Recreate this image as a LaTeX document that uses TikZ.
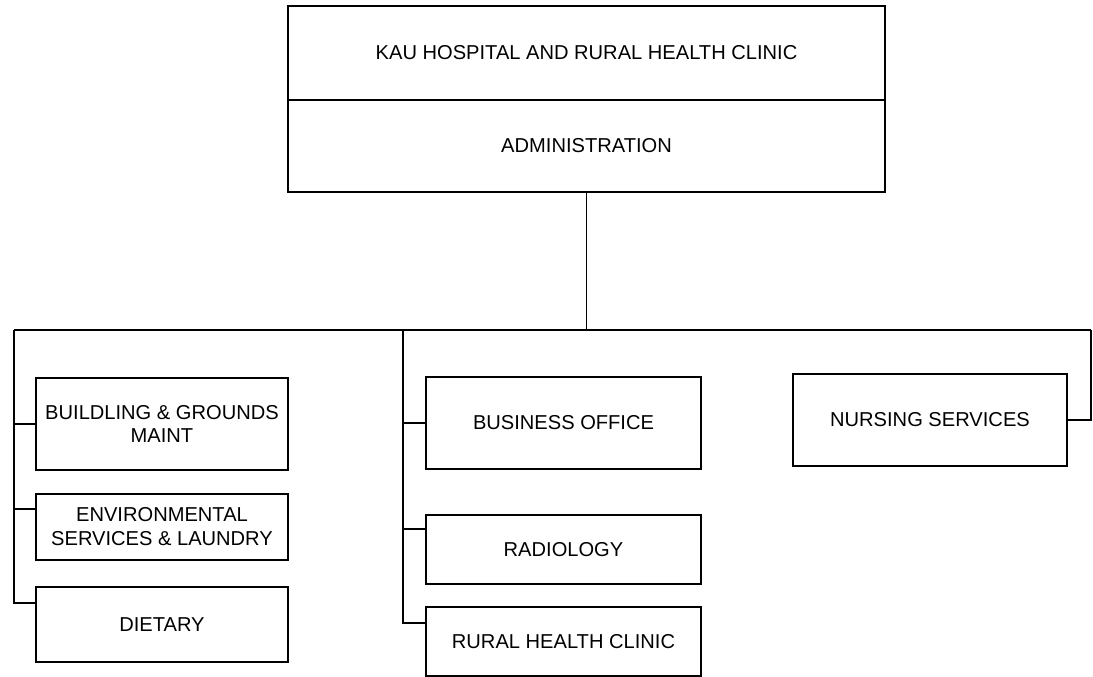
\documentclass[tikz,border=0pt]{standalone}
\usepackage{fontspec}
\setmainfont{Liberation Sans}
\tikzset{dept/.style={draw=black,line width=1.4pt,outer sep=0pt,inner sep=2pt,align=center,
  font=\fontsize{14.3}{17}\selectfont},
 link/.style={line width=1.3pt}}

\begin{document}
\begin{tikzpicture}[x=.025cm,y=-.025cm]
 \useasboundingbox (0,0) rectangle (1093,677);
 % top block
 \node[dept,minimum width=14.925cm,minimum height=2.35cm] (hosp) at (586.5,53) {KAU HOSPITAL AND RURAL HEALTH CLINIC};
 \node[dept,minimum width=14.925cm,minimum height=2.3cm] (admin) at (586.5,146) {ADMINISTRATION};
 % left column
 \node[dept,minimum width=6.3cm,minimum height=2.3cm] (bldg) at (162,424) {BUILDLING \& GROUNDS\\MAINT};
 \node[dept,minimum width=6.3cm,minimum height=1.65cm] (env) at (162,527) {ENVIRONMENTAL\\SERVICES \& LAUNDRY};
 \node[dept,minimum width=6.3cm,minimum height=1.875cm] (diet) at (162,624.5) {DIETARY};
 % middle column
 \node[dept,minimum width=6.875cm,minimum height=2.3cm] (bus) at (563.5,423) {BUSINESS OFFICE};
 \node[dept,minimum width=6.875cm,minimum height=1.725cm] (rad) at (563.5,549.5) {RADIOLOGY};
 \node[dept,minimum width=6.875cm,minimum height=1.725cm] (rhc) at (563.5,641.5) {RURAL HEALTH CLINIC};
 % right
 \node[dept,minimum width=6.85cm,minimum height=2.3cm] (nurse) at (930,420) {NURSING SERVICES};
 % connectors
 \coordinate (busL) at (14,330);
 \coordinate (busM) at (403,330);
 \coordinate (busR) at (1091,330);
 \draw[link] (busL) -- (busR);
 \draw[link] (admin.south) -- (admin.south |- busL);
 \draw[link] (busL) |- ([yshift=-.4cm]diet.north west);
 \draw[link] (bldg.west) -| (busL);
 \draw[link] ([yshift=-.375cm]env.north west) -| (busL);
 \draw[link] (busM) |- ([yshift=-.4cm]rhc.north west);
 \draw[link] (bus.west) -| (busM);
 \draw[link] ([yshift=-.35cm]rad.north west) -| (busM);
 \draw[link] (nurse.east) -| (busR);
\end{tikzpicture}
\end{document}
